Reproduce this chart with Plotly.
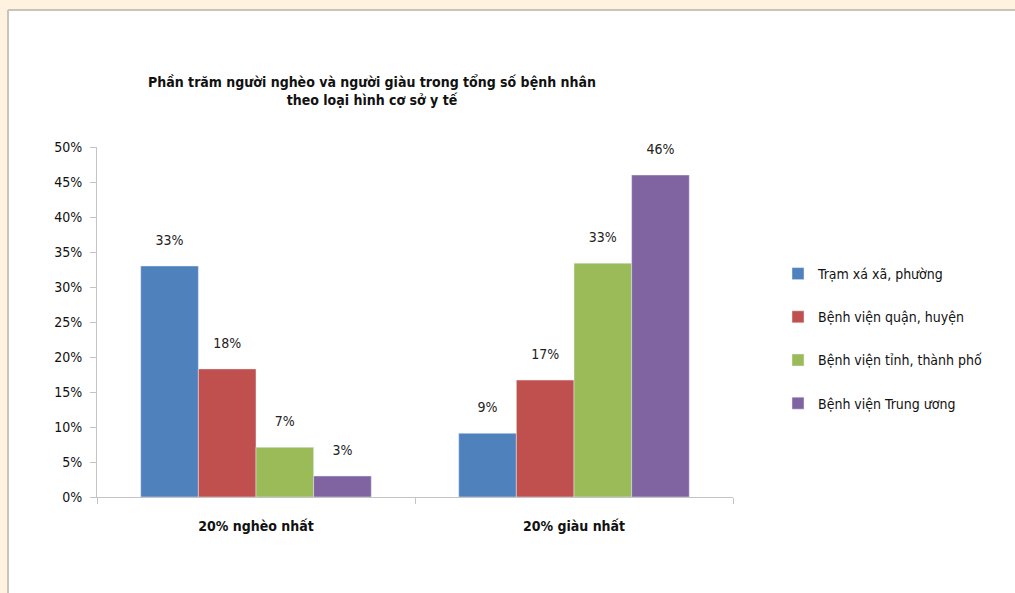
import plotly.graph_objects as go

categories = ["20% nghèo nhất", "20% giàu nhất"]
series_names = ["Trạm xá xã, phường", "Bệnh viện quận, huyện",
                "Bệnh viện tỉnh, thành phố", "Bệnh viện Trung ương"]
tram_xa = [0.33, 0.091]
bv_huyen = [0.183, 0.167]
bv_tinh = [0.071, 0.334]
bv_tw = [0.030, 0.46]
values = [tram_xa, bv_huyen, bv_tinh, bv_tw]
colors = ["#4F81BD", "#C0504D", "#9BBB59", "#8064A2"]
y_ticks = [0, 0.05, 0.10, 0.15, 0.20, 0.25, 0.30, 0.35, 0.40, 0.45, 0.50]

W, H = 1015, 593
L, R, T, B = 97, 282, 147, 96
PW, PH = W - L - R, H - T - B
FONT = "DejaVu Sans Condensed, Liberation Sans Narrow, sans-serif"

def px_x(p):
    return (p - L) / PW

def px_y(p):
    return (H - B - p) / PH

fig = go.Figure()
for name, vals, col in zip(series_names, values, colors):
    fig.add_trace(go.Bar(
        x=categories, y=vals, name=name, marker_color=col,
        legendgroup=name,
        texttemplate="%{y:.0%}<br><span style='font-size:1px'> </span>",
        textposition="outside", cliponaxis=False,
        textfont=dict(family=FONT, size=14, color="#222"),
    ))

shapes = [
    dict(type="rect", xref="paper", yref="paper", x0=px_x(9), x1=px_x(W + 5),
         y0=px_y(H + 5), y1=px_y(10), fillcolor="white", line_width=0, layer="below"),
    dict(type="line", xref="paper", yref="paper", x0=px_x(8), x1=px_x(W + 5),
         y0=px_y(10), y1=px_y(10), line=dict(color="#C9C4BB", width=2), layer="below"),
    dict(type="line", xref="paper", yref="paper", x0=px_x(8), x1=px_x(8),
         y0=px_y(10), y1=px_y(H + 5), line=dict(color="#C9C4BB", width=2), layer="below"),
]

fig.update_layout(
    width=W, height=H,
    margin=dict(l=L, r=R, t=T, b=B, autoexpand=False),
    paper_bgcolor="#FFF3E0", plot_bgcolor="rgba(0,0,0,0)",
    barmode="group", bargap=0.275, bargroupgap=0,
    font=dict(family=FONT, size=14, color="#111"),
    title=dict(text="<b>Phần trăm người nghèo và người giàu trong tổng số bệnh nhân<br>"
                    "theo loại hình cơ sở y tế</b>",
               x=372 / W, xanchor="center", y=1 - 87 / H, yanchor="top",
               font=dict(family=FONT, size=14, color="#111")),
    legend=dict(x=px_x(778), y=px_y(258), xanchor="left", yanchor="top",
                bgcolor="rgba(0,0,0,0)", tracegroupgap=22,
                font=dict(family=FONT, size=14, color="#111")),
    shapes=shapes,
)
fig.update_yaxes(range=[0, 0.5], tickvals=y_ticks, tickformat=".0%",
                 showgrid=False, zeroline=False, showline=True,
                 linecolor="#C4C4C4", linewidth=1, ticks="outside", ticklen=6,
                 tickcolor="#C4C4C4", ticklabelstandoff=5,
                 tickfont=dict(family=FONT, size=14, color="#111"))
fig.update_xaxes(showgrid=False, showline=True, linecolor="#C4C4C4", linewidth=1,
                 ticks="outside", ticklen=6, tickcolor="#C4C4C4", tickson="boundaries",
                 ticklabelstandoff=16,
                 tickfont=dict(family=FONT, size=14, color="#111"),
                 ticktext=["<b>" + c + "</b>" for c in categories], tickvals=categories)

fig.write_html("out.html", config={"displayModeBar": False},
               post_script="document.body.style.margin='0';")
